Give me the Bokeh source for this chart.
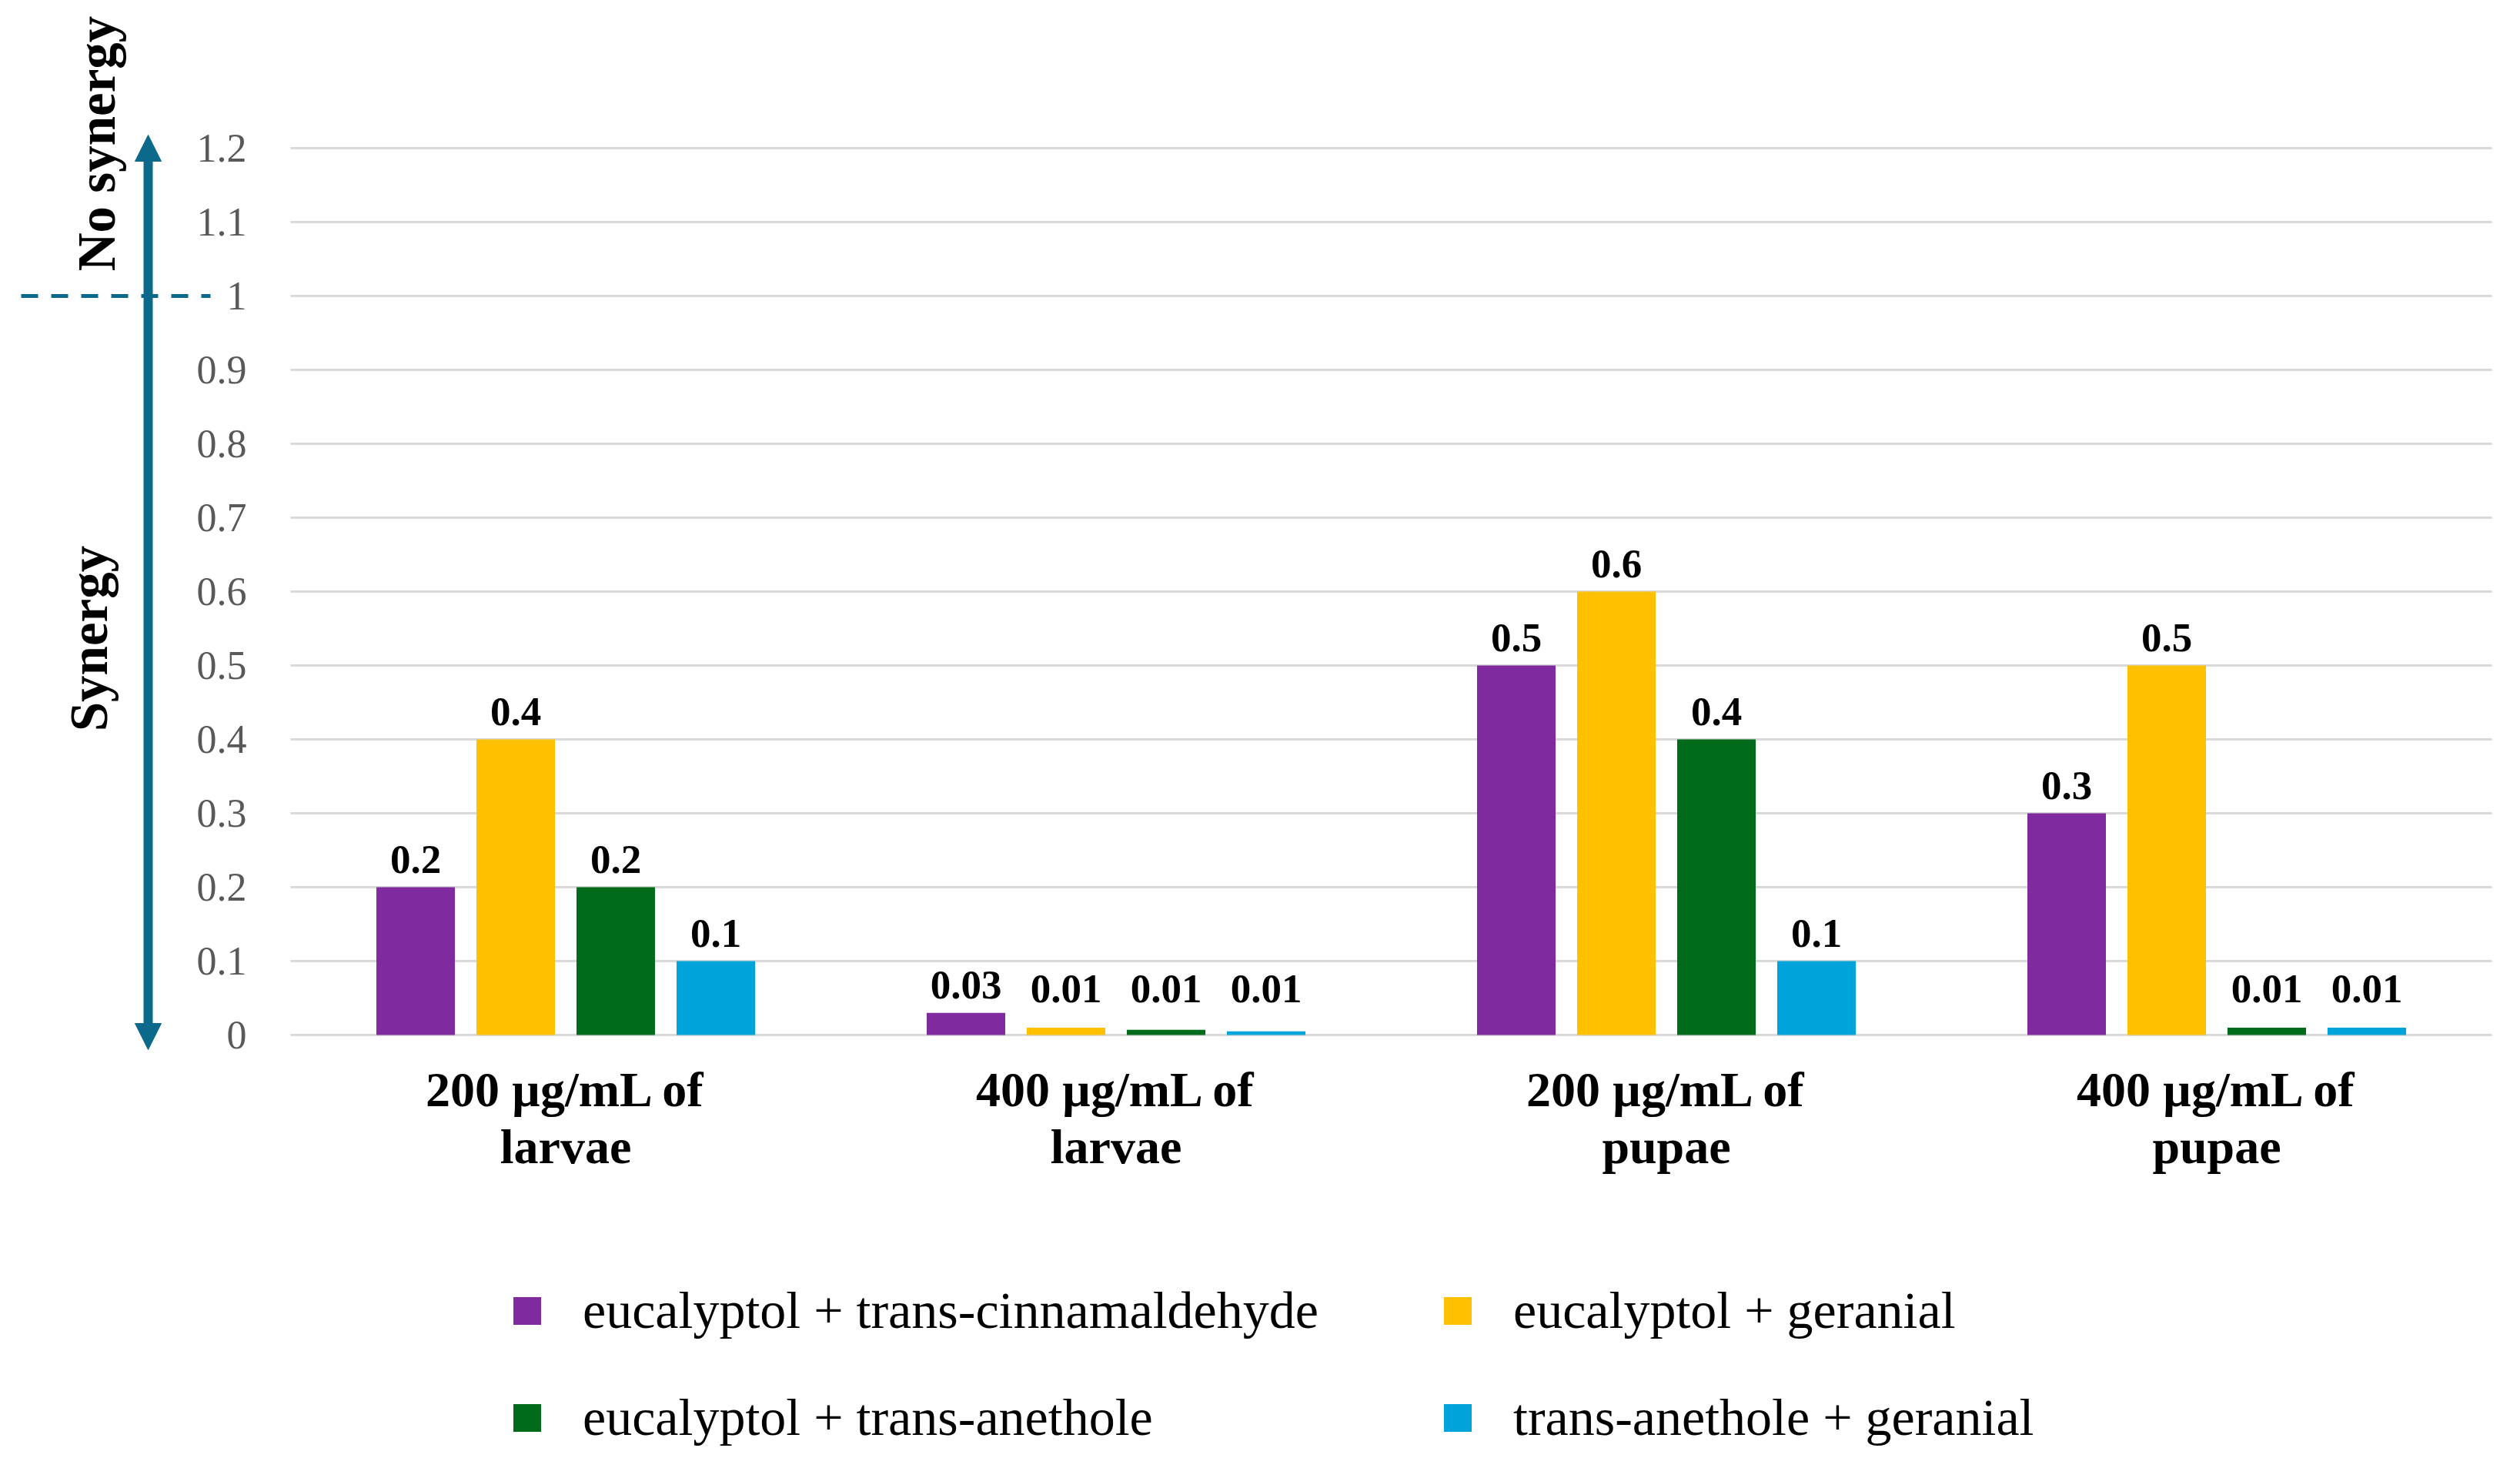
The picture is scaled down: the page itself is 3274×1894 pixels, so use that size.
import math
from bokeh.plotting import figure
from bokeh.models import (Range1d, LinearAxis, FixedTicker, Legend, LegendItem,
                          Arrow, NormalHead, ColumnDataSource)
from bokeh.core.properties import value
from bokeh.embed import file_html
from bokeh.resources import INLINE

# ---------------- data ----------------
categories = ["200 µg/mL of\nlarvae", "400 µg/mL of\nlarvae",
              "200 µg/mL of\npupae", "400 µg/mL of\npupae"]
series_names = ["eucalyptol + trans-cinnamaldehyde", "eucalyptol + geranial",
                "eucalyptol + trans-anethole", "trans-anethole + geranial"]
series_colors = ["#7F2A9F", "#FFC000", "#006B1A", "#00A3DA"]
euc_cinnamaldehyde = [0.2, 0.03, 0.5, 0.3]
euc_geranial = [0.4, 0.01, 0.6, 0.5]
euc_anethole = [0.2, 0.007, 0.4, 0.01]
anethole_geranial = [0.1, 0.005, 0.1, 0.01]
y_ticks = [0, 0.1, 0.2, 0.3, 0.4, 0.5, 0.6, 0.7, 0.8, 0.9, 1, 1.1, 1.2]
y_tick_labels = ["0", "0.1", "0.2", "0.3", "0.4", "0.5", "0.6", "0.7",
                 "0.8", "0.9", "1", "1.1", "1.2"]
threshold = 1
annotation_texts = ["No synergy", "Synergy"]

series_values = [euc_cinnamaldehyde, euc_geranial, euc_anethole, anethole_geranial]

# ---------------- layout (canvas pixels -> data units) ----------------
W, H = 3250, 1890
X0_PX, CAT_PX = 377, 715      # left edge of the category area, px per category
Y0_PX, UNIT_PX = 1344, 960    # y of value 0, px per 1.0


def u_of(px):
    return (px - X0_PX) / CAT_PX


def v_of(py):
    return (Y0_PX - py) / UNIT_PX


FONT = value("Liberation Serif")
TEAL = "#0B6A8C"

p = figure(width=W, height=H, output_backend="svg", toolbar_location=None,
           x_range=Range1d(u_of(0), u_of(W)),
           y_range=Range1d(v_of(H), v_of(0)),
           x_axis_type=None, y_axis_type=None, min_border=0)
p.outline_line_color = None
p.background_fill_color = "white"
p.border_fill_color = "white"

ncat = len(categories)

# grid lines across the category area
p.segment(x0=[0] * len(y_ticks), x1=[ncat] * len(y_ticks), y0=y_ticks, y1=y_ticks,
          line_color="#D9D9D9", line_width=3)

# bars
step = 130 / CAT_PX
bar_w = 102 / CAT_PX
nser = len(series_values)
items = []
label_x, label_y, label_txt = [], [], []
for s, (name, color, vals) in enumerate(zip(series_names, series_colors, series_values)):
    xs = [i + 0.5 + (s - (nser - 1) / 2) * step for i in range(ncat)]
    src = ColumnDataSource(dict(x=xs, top=vals))
    r = p.vbar(x="x", top="top", bottom=0, width=bar_w, source=src,
               fill_color=color, line_color=None)
    items.append(LegendItem(label=name, renderers=[r]))
    for x, v in zip(xs, vals):
        label_x.append(x)
        label_y.append(max(v, 0.025))
        label_txt.append(f"{round(v, 2):g}")

p.text(x=label_x, y=label_y, text=label_txt, text_align="center",
       text_baseline="alphabetic", y_offset=-36, text_font=FONT,
       text_font_style="bold", text_font_size="53px", text_color="black")

# axes
yaxis = LinearAxis(fixed_location=0, ticker=FixedTicker(ticks=y_ticks),
                   major_label_overrides=dict(zip(y_ticks, y_tick_labels)))
yaxis.axis_line_color = None
yaxis.major_tick_line_color = None
yaxis.minor_tick_line_color = None
yaxis.major_tick_out = 0
yaxis.major_tick_in = 0
yaxis.major_label_standoff = 57
yaxis.major_label_text_font = "Liberation Serif"
yaxis.major_label_text_font_size = "52px"
yaxis.major_label_text_color = "#595959"
p.add_layout(yaxis, "left")

cat_ticks = [i + 0.5 for i in range(ncat)]
xaxis = LinearAxis(fixed_location=0, ticker=FixedTicker(ticks=cat_ticks),
                   major_label_overrides=dict(zip(cat_ticks, categories)))
xaxis.axis_line_color = None
xaxis.major_tick_line_color = None
xaxis.minor_tick_line_color = None
xaxis.major_tick_out = 0
xaxis.major_tick_in = 0
xaxis.major_label_standoff = 35
xaxis.major_label_text_font = "Liberation Serif"
xaxis.major_label_text_font_style = "bold"
xaxis.major_label_text_font_size = "64px"
xaxis.major_label_text_color = "black"
xaxis.major_label_text_line_height = 1.05
p.add_layout(xaxis, "below")

# synergy threshold dashed marker and the double arrow
p.segment(x0=[u_of(27)], x1=[u_of(273)], y0=[threshold], y1=[threshold],
          line_color=TEAL, line_width=5, line_dash="22 17")
arrow = Arrow(x_start=u_of(192), y_start=v_of(1363), x_end=u_of(192), y_end=v_of(175),
              line_color=TEAL, line_width=12,
              start=NormalHead(size=34, fill_color=TEAL, line_color=TEAL, line_width=1),
              end=NormalHead(size=34, fill_color=TEAL, line_color=TEAL, line_width=1))
p.add_layout(arrow)

p.text(x=[u_of(125), u_of(115)], y=[v_of(186), v_of(829)], text=annotation_texts,
       angle=math.pi / 2, text_align="center", text_baseline="alphabetic",
       text_font=FONT, text_font_style="bold", text_font_size="69px",
       text_color="black")

# legend
legend = Legend(items=items, orientation="horizontal", ncols=2,
                location=(662, 9), glyph_width=45, glyph_height=45,
                label_standoff=50, label_width=1054, spacing=60,
                padding=0, margin=0, border_line_color=None,
                background_fill_alpha=0)
legend.label_text_font = "Liberation Serif"
legend.label_text_font_size = "68px"
legend.label_text_color = "black"
p.add_layout(legend)

with open("out.html", "w") as f:
    f.write(file_html(p, INLINE))
